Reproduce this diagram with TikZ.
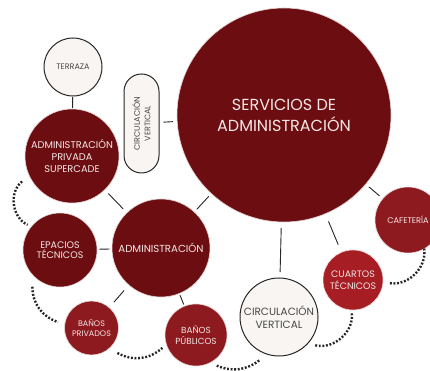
\documentclass[tikz,border=0pt]{standalone}
\usepackage{fontspec}
\setmainfont{Poppins}
\usepackage{xcolor}
\definecolor{maroon}{RGB}{108,14,17}
\definecolor{wine}{RGB}{140,26,31}
\definecolor{crimson}{RGB}{166,30,36}
\definecolor{paper}{RGB}{248,245,242}
\definecolor{ink}{RGB}{38,38,38}
\definecolor{pale}{RGB}{244,230,230}
\usetikzlibrary{calc}

\begin{document}
\begin{tikzpicture}[x=1pt, y=1pt,
  bubble/.style={circle, inner sep=0pt, align=center, minimum size=#1},
  darkbub/.style={bubble=#1, fill=maroon, draw=white!80!maroon, line width=0.6pt, text=pale},
  winebub/.style={darkbub=#1, fill=wine, draw=white!80!wine},
  redbub/.style={darkbub=#1, fill=crimson, draw=white!80!crimson},
  lightbub/.style={bubble=#1, fill=paper, draw=ink, line width=1pt, text=ink!85},
  link/.style={draw=ink, line width=0.9pt},
  dotarc/.style={draw=ink, line width=2.4pt, dash pattern=on 1.9pt off 1.7pt},
]
  \clip (0,0) rectangle (430,371);
  \fill[white] (0,0) rectangle (430,371);

  \node[darkbub=214pt, font=\fontsize{16}{21}\selectfont] (servicios) at (284,256) {SERVICIOS DE\\ADMINISTRACIÓN};
  \node[lightbub=58pt, font=\fontsize{8}{9}\selectfont] (terraza) at (73,304) {TERRAZA};
  \node[rotate=90, minimum width=99pt, minimum height=35pt, rounded corners=17.5pt,
        fill=paper, draw=ink, line width=1pt, text=ink!85, align=center, inner sep=0pt,
        font=\fontsize{8}{10.5}\selectfont] (pill) at (141.5,247.5) {CIRCULACIÓN\\VERTICAL};
  \node[darkbub=94pt, font=\fontsize{9.8}{12}\selectfont] (privada) at (72,215) {ADMINISTRACIÓN\\PRIVADA\\SUPERCADE};
  \node[darkbub=74pt, font=\fontsize{9.5}{10.5}\selectfont] (epacios) at (60,121) {EPACIOS\\TÉCNICOS};
  \node[darkbub=98pt, font=\fontsize{10.2}{11}\selectfont] (admin) at (161,123) {ADMINISTRACIÓN};
  \node[winebub=54pt, font=\fontsize{8}{10}\selectfont] (bpriv) at (91.5,43) {BAÑOS\\PRIVADOS};
  \node[winebub=62pt, font=\fontsize{8.8}{10.8}\selectfont] (bpub) at (196,36) {BAÑOS\\PÚBLICOS};
  \node[lightbub=78pt, font=\fontsize{10.5}{13}\selectfont] (circv) at (279,54) {CIRCULACIÓN\\VERTICAL};
  \node[redbub=60pt, font=\fontsize{9.4}{11.7}\selectfont] (cuartos) at (353,91) {CUARTOS\\TÉCNICOS};
  \node[winebub=66pt, font=\fontsize{8.2}{10}\selectfont] (cafe) at (408,151) {CAFETERÍA};

  % connectors
  \draw[link, shorten <=0.5pt, shorten >=0.5pt] (terraza) -- (privada);
  \draw[link, shorten <=4pt, shorten >=4pt] (pill) -- (servicios);
  \draw[link, shorten <=5pt, shorten >=5pt] (privada) -- (admin);
  \draw[link, shorten <=2pt, shorten >=2pt] (epacios) -- (admin);
  \draw[link, shorten <=7pt, shorten >=7pt] (admin) -- (bpriv);
  \draw[link, shorten <=1.5pt, shorten >=1.5pt] (admin) -- (bpub);
  \draw[link, shorten <=3.5pt, shorten >=3.5pt] (admin) -- (servicios);
  \draw[link, shorten <=5.5pt, shorten >=5.5pt] (servicios) -- (circv);
  \draw[link, shorten <=8pt, shorten >=8pt] (servicios) -- (cuartos);
  \draw[link, shorten <=4pt, shorten >=4pt] (servicios) -- (cafe);

  % dotted arcs
  \draw[dotarc] ($(privada)+(207:56)$) to[bend right=60] ($(epacios)+(142:41)$);
  \draw[dotarc] ($(epacios)+(233:46)$) to[bend right=35] ($(bpriv)+(170:34)$);
  \draw[dotarc] ($(bpriv)+(316:36)$) to[bend right=35] ($(bpub)+(201:36)$);
  \draw[dotarc] ($(bpub)+(304:37)$) to[bend right=30] ($(circv)+(246:47)$);
  \draw[dotarc] ($(circv)+(322:46)$) to[bend right=55] ($(cuartos)+(268:33)$);
  \draw[dotarc] ($(cuartos)+(355:37)$) to[bend right=55] ($(cafe)+(300:32)$);
\end{tikzpicture}
\end{document}
